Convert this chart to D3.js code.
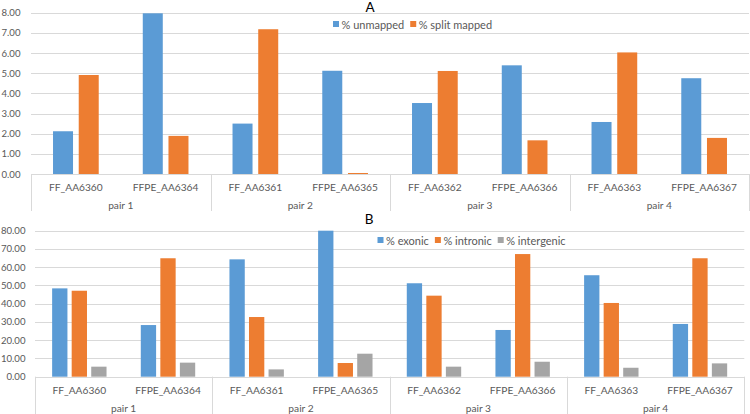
<!DOCTYPE html>
<html>
<head>
<meta charset="utf-8">
<script src="https://cdn.jsdelivr.net/npm/d3@7/dist/d3.min.js"></script>
<style>
  html, body { margin: 0; padding: 0; background: #fff; }
  svg { display: block; font-family: Lato, "Noto Sans", sans-serif; }
</style>
</head>
<body>
<svg id="chart" width="750" height="414"></svg>
<script>
// ---- Data ----
const samples = ["FF_AA6360", "FFPE_AA6364", "FF_AA6361", "FFPE_AA6365", "FF_AA6362", "FFPE_AA6366", "FF_AA6363", "FFPE_AA6367"];
const pairs = ["pair 1", "pair 2", "pair 3", "pair 4"];

const seriesA = ["% unmapped", "% split mapped"];
const unmapped = [2.12, 7.97, 2.50, 5.12, 3.52, 5.39, 2.58, 4.75];
const splitMapped = [4.91, 1.89, 7.18, 0.05, 5.11, 1.67, 6.03, 1.79];
const ticksA = [0, 1, 2, 3, 4, 5, 6, 7, 8];

const seriesB = ["% exonic", "% intronic", "% intergenic"];
const exonic = [48.4, 28.3, 64.3, 80.0, 51.2, 25.6, 55.6, 28.9];
const intronic = [47.1, 64.9, 32.7, 7.5, 44.4, 67.2, 40.4, 64.9];
const intergenic = [5.5, 7.7, 4.0, 12.6, 5.5, 8.2, 4.9, 7.3];
const ticksB = [0, 10, 20, 30, 40, 50, 60, 70, 80];

const colors = ["#5B9BD5", "#ED7D31", "#A5A5A5"];

const svg = d3.select("#chart");
svg.append("rect").attr("width", 750).attr("height", 414).attr("fill", "#fff");

function drawChart(cfg) {
  const g = svg.append("g");
  const y = d3.scaleLinear().domain([0, cfg.max]).range([cfg.y0, cfg.yTop]);
  const x = d3.scaleBand().domain(cfg.samples).range([cfg.left, cfg.right]).padding(0);
  const xPair = d3.scaleBand().domain(cfg.pairs).range([cfg.left, cfg.right]).padding(0);
  const sub = d3.scaleBand().domain(cfg.series).range([0, cfg.groupW]).paddingInner(cfg.innerPad).paddingOuter(0);

  // gridlines
  g.append("g").selectAll("line").data(cfg.ticks).join("line")
    .attr("x1", cfg.left).attr("x2", cfg.gridRight)
    .attr("y1", d => Math.round(y(d)) + 0.5).attr("y2", d => Math.round(y(d)) + 0.5)
    .attr("stroke", "#d9d9d9").attr("stroke-width", 1);

  // y tick labels
  g.append("g").selectAll("text").data(cfg.ticks).join("text")
    .attr("x", cfg.labelRight).attr("y", d => y(d))
    .attr("text-anchor", "end").attr("dominant-baseline", "central")
    .attr("font-size", 9.6).attr("fill", "#595959")
    .text(d => d3.format(".2f")(d));

  // bars
  const offset = (x.bandwidth() - cfg.groupW) / 2;
  cfg.values.forEach((vals, si) => {
    g.append("g").selectAll("rect").data(vals).join("rect")
      .attr("x", (d, i) => x(cfg.samples[i]) + offset + sub(cfg.series[si]))
      .attr("width", sub.bandwidth())
      .attr("y", d => y(d))
      .attr("height", d => y(0) - y(d))
      .attr("fill", colors[si]);
  });

  // category separators (pair boundaries)
  const seps = cfg.pairs.map(p => xPair(p)).concat([cfg.right]);
  g.append("g").selectAll("line").data(seps).join("line")
    .attr("x1", d => Math.round(d) + 0.5).attr("x2", d => Math.round(d) + 0.5)
    .attr("y1", cfg.y0).attr("y2", cfg.sepBottom)
    .attr("stroke", "#d9d9d9").attr("stroke-width", 1);

  // sample labels
  g.append("g").selectAll("text").data(cfg.samples).join("text")
    .attr("x", d => x(d) + x.bandwidth() / 2).attr("y", cfg.sampleY)
    .attr("text-anchor", "middle").attr("dominant-baseline", "central")
    .attr("font-size", 10.2).attr("fill", "#595959")
    .text(d => d);

  // pair labels
  g.append("g").selectAll("text").data(cfg.pairs).join("text")
    .attr("x", d => xPair(d) + xPair.bandwidth() / 2).attr("y", cfg.pairY)
    .attr("text-anchor", "middle").attr("dominant-baseline", "central")
    .attr("font-size", 10.2).attr("fill", "#595959")
    .text(d => d);

  // title
  g.append("text").attr("x", cfg.titleX).attr("y", cfg.titleBaseline)
    .attr("text-anchor", "middle")
    .attr("font-size", 13.5).attr("fill", "#000")
    .text(cfg.title);

  // legend
  const lg = g.append("g");
  let lx = cfg.legendX;
  cfg.series.forEach((s, i) => {
    lg.append("rect").attr("x", lx).attr("y", cfg.legendY - 3).attr("width", 6).attr("height", 6).attr("fill", colors[i]);
    const t = lg.append("text").attr("x", lx + 8.5).attr("y", cfg.legendY)
      .attr("dominant-baseline", "central").attr("font-size", 11).attr("fill", "#595959").text(s);
    lx += 8.5 + t.node().getComputedTextLength() + 6;
  });
}

drawChart({
  samples, pairs, series: seriesA, values: [unmapped, splitMapped], ticks: ticksA, max: 8,
  left: 31, right: 749, gridRight: 749, y0: 174, yTop: 12.7,
  groupW: 45.7, innerPad: 0.222, labelRight: 20.5,
  sepBottom: 211, sampleY: 187, pairY: 205,
  title: "A", titleX: 370, titleBaseline: 11.5, legendX: 333, legendY: 24
});

drawChart({
  samples, pairs, series: seriesB, values: [exonic, intronic, intergenic], ticks: ticksB, max: 80,
  left: 35, right: 744.3, gridRight: 744.3, y0: 376.7, yTop: 230.7,
  groupW: 54.4, innerPad: 0.217, labelRight: 25.5,
  sepBottom: 414, sampleY: 390, pairY: 408.3,
  title: "B", titleX: 369, titleBaseline: 224, legendX: 377.5, legendY: 240
});
</script>
</body>
</html>
